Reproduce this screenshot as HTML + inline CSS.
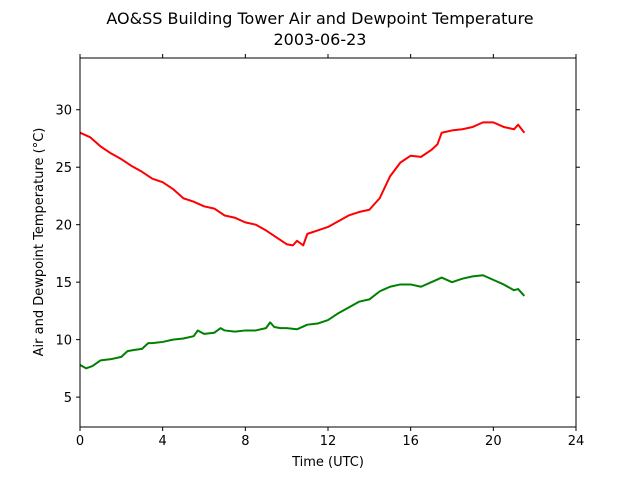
<!DOCTYPE html>
<html><head><meta charset="utf-8"><style>
body{margin:0;background:#fff;font-family:"Liberation Sans","DejaVu Sans",sans-serif;}
svg text{font-family:"DejaVu Sans","Liberation Sans",sans-serif;}
</style></head><body>
<svg id="chart" width="640" height="480">
<text x="320" y="24" font-size="16" text-anchor="middle">AO&amp;SS Building Tower Air and Dewpoint Temperature</text>
<text x="320" y="45" font-size="16" text-anchor="middle">2003-06-23</text>
<g id="plot"></g>
<rect x="80" y="58" width="496" height="369" fill="none" stroke="#000" stroke-width="1"/>
<text x="328" y="466" font-size="13" text-anchor="middle">Time (UTC)</text>
<text transform="translate(43,242) rotate(-90)" font-size="13" text-anchor="middle">Air and Dewpoint Temperature (°C)</text>
</svg>
<script>
const xTicks=[0,4,8,12,16,20,24];
const yTicks=[5,10,15,20,25,30];
const airHours=[0,0.5,1,1.5,2,2.5,3,3.5,4,4.5,5,5.5,6,6.5,7,7.5,8,8.5,9,9.5,10,10.3,10.5,10.8,11,11.5,12,12.5,13,13.5,14,14.5,15,15.5,16,16.5,17,17.3,17.5,18,18.5,19,19.5,20,20.5,21,21.2,21.5];
const airTemp=[28.0,27.6,26.8,26.2,25.7,25.1,24.6,24.0,23.7,23.1,22.3,22.0,21.6,21.4,20.8,20.6,20.2,20.0,19.5,18.9,18.3,18.2,18.6,18.2,19.2,19.5,19.8,20.3,20.8,21.1,21.3,22.3,24.2,25.4,26.0,25.9,26.5,27.0,28.0,28.2,28.3,28.5,28.9,28.9,28.5,28.3,28.7,28.0];
const dewHours=[0,0.3,0.6,1,1.5,2,2.3,2.6,3,3.3,3.5,4,4.5,5,5.5,5.7,6,6.5,6.8,7,7.5,8,8.5,9,9.2,9.4,9.7,10,10.5,11,11.5,12,12.5,13,13.5,14,14.5,15,15.5,16,16.5,17,17.5,18,18.5,19,19.5,20,20.5,21,21.2,21.5];
const dewTemp=[7.8,7.5,7.7,8.2,8.3,8.5,9.0,9.1,9.2,9.7,9.7,9.8,10.0,10.1,10.3,10.8,10.5,10.6,11.0,10.8,10.7,10.8,10.8,11.0,11.5,11.1,11.0,11.0,10.9,11.3,11.4,11.7,12.3,12.8,13.3,13.5,14.2,14.6,14.8,14.8,14.6,15.0,15.4,15.0,15.3,15.5,15.6,15.2,14.8,14.3,14.4,13.8];
const X0=80,X1=576,Y0=427,Y1=58,xmin=0,xmax=24,ymin=2.4,ymax=34.5;
const sx=v=>X0+(v-xmin)/(xmax-xmin)*(X1-X0);
const sy=v=>Y0-(v-ymin)/(ymax-ymin)*(Y0-Y1);
const ns="http://www.w3.org/2000/svg";
const g=document.getElementById('plot');
function mk(t,a){const e=document.createElementNS(ns,t);for(const k in a)e.setAttribute(k,a[k]);g.appendChild(e);return e;}
xTicks.forEach(t=>{
  const l=mk('line',{x1:sx(t),x2:sx(t),y1:Y0,y2:Y0+4,stroke:'#000'});
  
  
  const l2=mk('line',{x1:sx(t),x2:sx(t),y1:Y1,y2:Y1-4,stroke:'#000'});
  
  
  const tx=mk('text',{x:sx(t),y:Y0+18,'font-size':13,'text-anchor':'middle'});tx.textContent=t;
  
  
});
yTicks.forEach(t=>{
  const l=mk('line',{x1:X0-4,x2:X0,y1:sy(t),y2:sy(t),stroke:'#000'});
  
  
  const l2=mk('line',{x1:X1,x2:X1+4,y1:sy(t),y2:sy(t),stroke:'#000'});
  
  
  const tx=mk('text',{x:X0-8,y:sy(t)+5,'font-size':13,'text-anchor':'end'});tx.textContent=t;
  
  
});
const air=mk('polyline',{points:airHours.map((h,i)=>sx(h)+','+sy(airTemp[i])).join(' '),fill:'none',stroke:'#ff0000','stroke-width':2,'stroke-linejoin':'round'});


const dew=mk('polyline',{points:dewHours.map((h,i)=>sx(h)+','+sy(dewTemp[i])).join(' '),fill:'none',stroke:'#008000','stroke-width':2,'stroke-linejoin':'round'});


</script>
</body></html>
